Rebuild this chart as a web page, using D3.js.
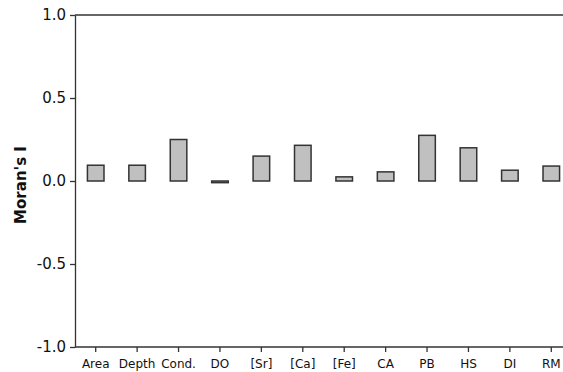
<!DOCTYPE html>
<html>
<head>
<meta charset="utf-8">
<script src="https://cdn.jsdelivr.net/npm/d3@7"></script>
<style>
  body { margin: 0; background: #fff; }
  text { font-family: "DejaVu Sans", Verdana, sans-serif; fill: #111; }
</style>
</head>
<body>
<div id="chart"></div>
<script>
var categories = ['Area', 'Depth', 'Cond.', 'DO', '[Sr]', '[Ca]', '[Fe]', 'CA', 'PB', 'HS', 'DI', 'RM'];
var moransI = [0.095, 0.095, 0.25, -0.01, 0.15, 0.215, 0.025, 0.055, 0.275, 0.2, 0.065, 0.09];
var yTicks = [-1.0, -0.5, 0.0, 0.5, 1.0];

var width = 563, height = 372;
var plotLeft = 75, plotTop = 15, plotBottom = 347;

var svg = d3.select('#chart').append('svg')
    .attr('width', width)
    .attr('height', height);

var x = d3.scaleBand()
    .domain(categories)
    .range([plotLeft, 572])
    .paddingInner(0.6)
    .paddingOuter(0.3);

var y = d3.scaleLinear()
    .domain([-1, 1])
    .range([plotBottom, plotTop]);

// top border line
svg.append('line')
    .attr('x1', plotLeft).attr('x2', width)
    .attr('y1', plotTop).attr('y2', plotTop)
    .attr('stroke', '#333').attr('stroke-width', 1.3);

// bars
svg.append('g').selectAll('rect')
    .data(moransI)
    .enter()
    .append('rect')
    .attr('x', function(d, i) { return x(categories[i]); })
    .attr('width', x.bandwidth())
    .attr('y', function(d) { return y(Math.max(0, d)); })
    .attr('height', function(d) { return Math.abs(y(d) - y(0)); })
    .attr('fill', '#c0c0c0')
    .attr('stroke', '#333')
    .attr('stroke-width', 1.5);

// y axis (plain hyphen for negatives, as in the original)
var yAxis = svg.append('g')
    .attr('transform', 'translate(' + plotLeft + ',0)')
    .call(d3.axisLeft(y).tickValues(yTicks)
      .tickFormat(function(d) { return d.toFixed(1); })
      .tickSize(5).tickSizeOuter(0));
yAxis.selectAll('text').style('font-size', '15px').attr('dx', '-1px');

// x axis
var xAxis = svg.append('g')
    .attr('transform', 'translate(0,' + plotBottom + ')')
    .call(d3.axisBottom(x).tickSize(5).tickSizeOuter(0));
xAxis.select('.domain').attr('d', 'M' + plotLeft + ',0H' + width);
xAxis.selectAll('text').style('font-size', '12px').attr('dy', '1.1em');

svg.selectAll('.domain').attr('stroke', '#333').attr('stroke-width', 1.3);
svg.selectAll('.tick line').attr('stroke', '#333').attr('stroke-width', 1.3);

// y label
svg.append('text')
    .attr('transform', 'translate(26,' + (y(0) + 4) + ') rotate(-90)')
    .attr('text-anchor', 'middle')
    .style('font-size', '15px')
    .style('font-weight', 'bold')
    .text("Moran's I");
</script>
</body>
</html>
